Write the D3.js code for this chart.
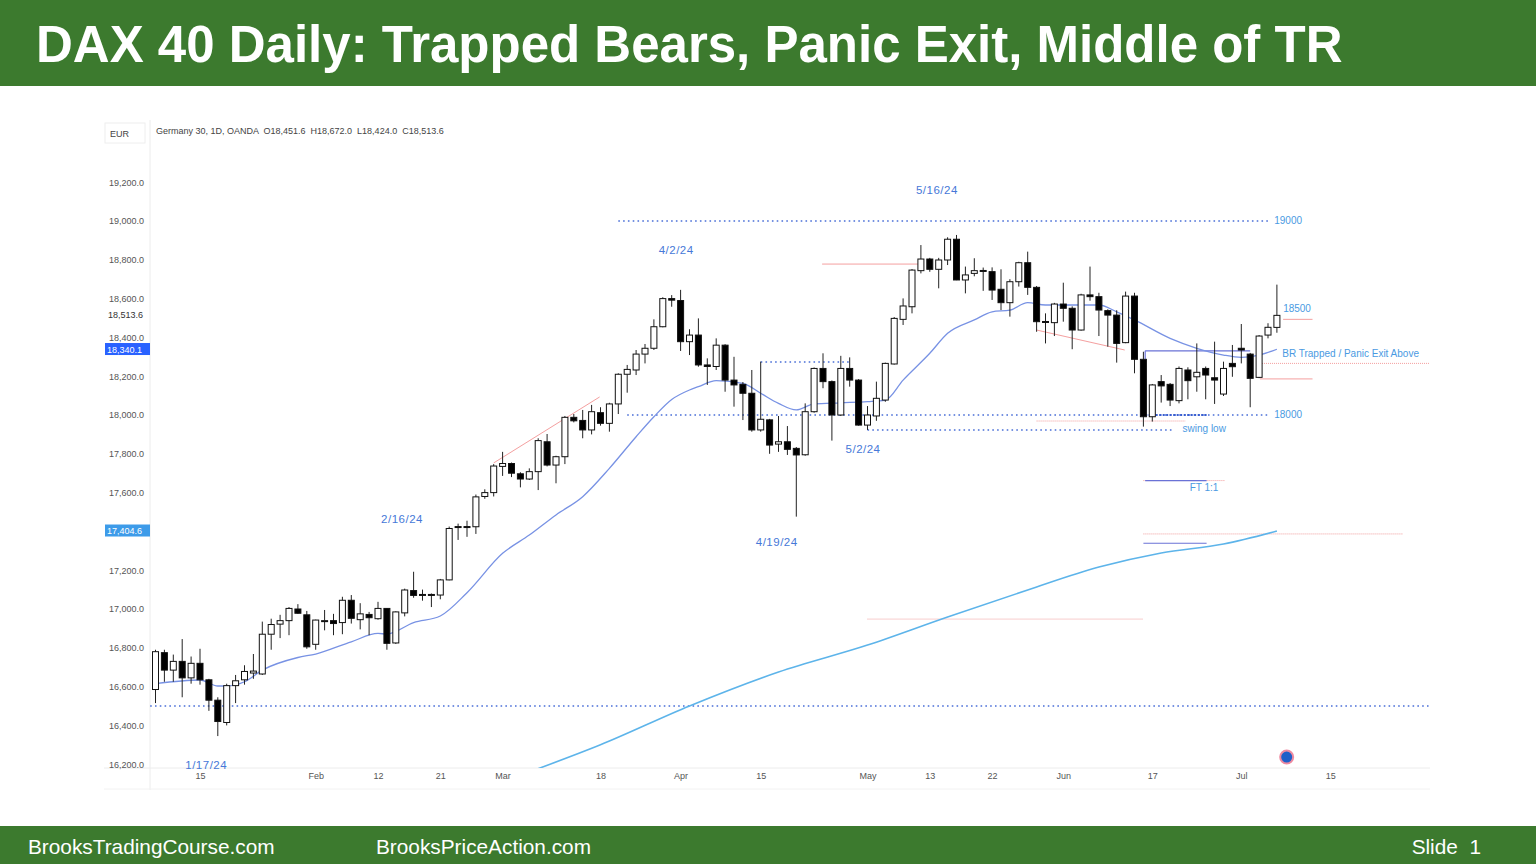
<!DOCTYPE html>
<html>
<head>
<meta charset="utf-8">
<script src="https://cdn.jsdelivr.net/npm/d3@7"></script>
<style>
body { margin: 0; background: #fff; }
svg text { font-family: "Liberation Sans", Arial, sans-serif; }
</style>
</head>
<body>
<svg id="chart" width="1536" height="864"></svg>
<script>
// trading days (Jan 8 - Jul 5 2024), one entry per candle
const dates = ("01-08 01-09 01-10 01-11 01-12 01-15 01-16 01-17 01-18 01-19 01-22 01-23 01-24 01-25 01-26 01-29 01-30 01-31 " +
  "02-01 02-02 02-05 02-06 02-07 02-08 02-09 02-12 02-13 02-14 02-15 02-16 02-19 02-20 02-21 02-22 02-23 02-26 02-27 02-28 02-29 " +
  "03-01 03-04 03-05 03-06 03-07 03-08 03-11 03-12 03-13 03-14 03-15 03-18 03-19 03-20 03-21 03-22 03-25 03-26 03-27 03-28 " +
  "04-02 04-03 04-04 04-05 04-08 04-09 04-10 04-11 04-12 04-15 04-16 04-17 04-18 04-19 04-22 04-23 04-24 04-25 04-26 04-29 04-30 " +
  "05-02 05-03 05-06 05-07 05-08 05-09 05-10 05-13 05-14 05-15 05-16 05-17 05-20 05-21 05-22 05-23 05-24 05-27 05-28 05-29 05-30 05-31 " +
  "06-03 06-04 06-05 06-06 06-07 06-10 06-11 06-12 06-13 06-14 06-17 06-18 06-19 06-20 06-21 06-24 06-25 06-26 06-27 06-28 " +
  "07-01 07-02 07-03 07-04 07-05").split(" ");

const open = [16585,16775,16685,16730,16645,16720,16635,16530,16415,16605,16635,16670,16665,16870,16922,16940,17000,16970,
  16818,16935,16940,16930,17045,16945,16972,16950,17003,16825,16980,17095,17070,17075,17072,17150,17420,17425,17424,17580,17600,
  17735,17750,17697,17670,17708,17862,17742,17785,17988,17972,17923,18012,17957,18057,18210,18232,18314,18344,18455,18600,
  18590,18378,18412,18258,18250,18360,18180,18158,18112,17923,17975,17850,17862,17828,17795,18017,18240,18172,18000,18240,18180,
  17948,17995,18077,18263,18493,18558,18744,18804,18751,18799,18906,18696,18730,18742,18739,18648,18579,18687,18785,18658,18478,18476,
  18572,18550,18438,18619,18610,18538,18515,18373,18613,18287,17991,18172,18158,18074,18232,18197,18240,18192,18108,18266,
  18344,18314,18194,18412,18451.6];
const high = [16790,16790,16765,16845,16755,16795,16640,16545,16615,16660,16710,16768,16935,16950,16970,17010,17025,16990,
  16945,16995,16975,17063,17072,17030,16985,17037,17005,16988,17105,17192,17100,17080,17155,17425,17440,17455,17590,17617,17747,
  17810,17755,17705,17725,17880,17902,17790,17995,18005,18026,18052,18040,18063,18215,18258,18335,18366,18493,18607,18618,
  18645,18442,18498,18292,18395,18365,18300,18170,18232,18275,17980,17995,17943,17835,18060,18245,18318,18178,18305,18297,18185,
  18046,18172,18270,18505,18601,18752,18876,18810,18810,18916,18928,18765,18808,18760,18761,18751,18700,18790,18842,18665,18524,18578,
  18682,18560,18625,18765,18630,18545,18540,18636,18630,18326,18160,18206,18165,18250,18246,18369,18250,18378,18275,18361,
  18469,18320,18412,18473,18672];
const low = [16515,16625,16625,16545,16615,16610,16475,16345,16400,16515,16610,16640,16660,16790,16850,16865,16975,16795,
  16790,16890,16865,16870,16925,16895,16865,16945,16790,16820,16962,17058,17043,17010,17050,17148,17356,17372,17387,17568,17580,
  17686,17680,17627,17665,17613,17735,17648,17747,17962,17880,17900,17945,17914,18005,18115,18206,18266,18335,18452,18558,
  18330,18309,18249,18155,18232,18120,18043,17974,17914,17914,17800,17810,17794,17476,17790,18012,18138,17868,17995,18146,17945,
  17923,17970,18068,18260,18464,18524,18730,18738,18653,18773,18695,18627,18715,18640,18593,18541,18507,18662,18619,18429,18369,18407,
  18481,18339,18435,18589,18407,18352,18270,18370,18215,17940,17966,18064,18046,18060,18081,18120,18081,18057,18098,18197,
  18266,18040,18190,18395,18424];
const close = [16780,16685,16730,16645,16720,16635,16530,16420,16605,16630,16678,16680,16870,16920,16940,17003,16978,16805,
  16943,16940,16925,17045,16952,16975,16955,17003,16823,16985,17098,17070,17075,17072,17150,17415,17425,17420,17578,17600,17737,
  17750,17700,17670,17708,17868,17742,17785,17988,17970,17923,18017,17957,18057,18210,18235,18314,18344,18455,18600,18592,
  18378,18412,18258,18250,18360,18180,18155,18112,17923,17978,17845,17862,17823,17794,18017,18240,18172,18000,18240,18180,17948,
  18000,18086,18266,18498,18562,18747,18804,18751,18799,18906,18696,18722,18744,18745,18644,18579,18687,18785,18658,18481,18482,18572,
  18550,18438,18619,18610,18541,18515,18369,18613,18287,17991,18155,18150,18077,18240,18177,18220,18206,18180,18240,18249,
  18335,18189,18407,18452,18513.6];

// 20 bar EMA at these bars
const emaBars = [0,5,7,8,10,12,16,18,22,25,26,29,32,35,39,42,45,48,51,54,56,58,60,61,63,66,68,70,72,74,77,80,82,84,87,89,92,94,96,98,100,103,106,108,110,114,117,120,122,124,126];
const emaValues = [16615,16634,16603,16603,16625,16685,16750,16768,16831,16874,16871,16930,16964,17084,17287,17381,17485,17579,17725,17888,17991,18080,18129,18146,18177,18163,18112,18060,18026,18057,18063,18069,18077,18180,18318,18421,18490,18532,18541,18579,18567,18567,18567,18532,18490,18395,18344,18309,18297,18309,18339];
// slow moving average (light blue)
const slowBars = [42,50,60,70,80,89,98,106,113,120,126];
const slowValues = [16160,16300,16500,16675,16814,16959,17098,17216,17289,17335,17402];

const priceTicks = [16200,16400,16600,16800,17000,17200,17400,17600,17800,18000,18200,18400,18600,18800,19000,19200];
const tickBars = [5,18,25,32,39,50,59,68,80,87,94,102,112,122,132];
const tickLabels = ["15","Feb","12","21","Mar","18","Apr","15","May","13","22","Jun","17","Jul","15"];

const dateNotes = [
  {bar: 87.8, price: 19155, text: "5/16/24"},
  {bar: 58.5, price: 18845, text: "4/2/24"},
  {bar: 27.7, price: 17459, text: "2/16/24"},
  {bar: 69.8, price: 17340, text: "4/19/24"},
  {bar: 79.5, price: 17820, text: "5/2/24"},
  {bar: 5.7, price: 16191, text: "1/17/24"}
];
const levelNotes = [
  {bar: 125.7, price: 19000, text: "19000"},
  {bar: 125.7, price: 18000, text: "18000"},
  {bar: 126.7, price: 18546, text: "18500"},
  {bar: 126.6, price: 18314, text: "BR Trapped / Panic Exit Above"},
  {bar: 115.4, price: 17928, text: "swing low"},
  {bar: 116.2, price: 17624, text: "FT 1:1"}
];
const blueDotted = [
  {from: 52, to: 125, price: 19000},
  {from: 53, to: 125, price: 18000},
  {from: -0.6, to: 143.2, price: 16500},
  {from: 68, to: 78, price: 18273},
  {from: 80, to: 114.5, price: 17923}
];
const redLines = [
  {x1: 38, p1: 17753, x2: 49.9, p2: 18093, dash: null},
  {x1: 74.9, p1: 18778, x2: 85.9, p2: 18778, dash: null},
  {x1: 99, p1: 18438, x2: 108.9, p2: 18335, dash: null},
  {x1: 99, p1: 17969, x2: 115.7, p2: 17969, dash: "1,1"},
  {x1: 126.7, p1: 18493, x2: 130, p2: 18493, dash: null},
  {x1: 124.1, p1: 18266, x2: 143.2, p2: 18266, dash: "1,1"},
  {x1: 124.1, p1: 18186, x2: 130, p2: 18186, dash: null},
  {x1: 111, p1: 17662, x2: 120.2, p2: 17662, dash: "1,1"},
  {x1: 111, p1: 17387, x2: 140.2, p2: 17387, dash: "1,1"},
  {x1: 80, p1: 16948, x2: 111, p2: 16948, dash: "1,1"}
];
const purpleLines = [
  {x1: 111.2, p1: 18331, x2: 123, p2: 18331},
  {x1: 111.2, p1: 18331, x2: 111.2, p2: 18287},
  {x1: 111.2, p1: 17662, x2: 118.1, p2: 17662},
  {x1: 111, p1: 17339, x2: 118.1, p2: 17339}
];

const svg = d3.select("#chart");
const green = "#3c7a2e";

// header and footer bands
svg.append("rect").attr("x", 0).attr("y", 0).attr("width", 1536).attr("height", 86).attr("fill", green);
svg.append("text").attr("x", 36).attr("y", 62)
  .attr("fill", "#fff").attr("font-size", 51).attr("font-weight", "bold")
  .text("DAX 40 Daily: Trapped Bears, Panic Exit, Middle of TR");
svg.append("rect").attr("x", 0).attr("y", 826).attr("width", 1536).attr("height", 38).attr("fill", green);
const foot = [[28, "start", "BrooksTradingCourse.com"], [376, "start", "BrooksPriceAction.com"], [1481, "end", "Slide  1"]];
foot.forEach(function(f) {
  svg.append("text").attr("x", f[0]).attr("y", 854).attr("text-anchor", f[1])
    .attr("fill", "#fff").attr("font-size", 20.8).style("white-space", "pre").text(f[2]);
});

// scales
const x = d3.scaleLinear().domain([0, 126]).range([155.5, 1276.9]);
const y = d3.scaleLinear().domain([16200, 19000]).range([764.2, 221]);
const plotL = 150, plotR = 1430, plotT = 118, plotB = 768;

svg.append("defs").append("clipPath").attr("id", "plot")
  .append("rect").attr("x", plotL).attr("y", plotT).attr("width", plotR - plotL).attr("height", plotB - plotT);

// frame lines
svg.append("line").attr("x1", plotL).attr("x2", plotL).attr("y1", 120).attr("y2", 790).attr("stroke", "#ececec");
svg.append("line").attr("x1", 104).attr("x2", plotR).attr("y1", plotB).attr("y2", plotB).attr("stroke", "#ececec");
svg.append("line").attr("x1", 104).attr("x2", plotR).attr("y1", 789).attr("y2", 789).attr("stroke", "#f2f2f2");

// y axis
const yAxis = d3.axisLeft(y).tickValues(priceTicks).tickSize(0).tickPadding(0)
  .tickFormat(d3.format(",.1f"));
const ya = svg.append("g").attr("transform", "translate(144,0)").call(yAxis);
ya.select(".domain").remove();
ya.selectAll("text").attr("font-size", 9).attr("fill", "#555").attr("font-family", "DejaVu Sans Condensed, Liberation Sans, sans-serif");

// x axis
const xAxis = d3.axisBottom(x).tickValues(tickBars).tickSize(0).tickPadding(0)
  .tickFormat(function(d, i) { return tickLabels[i]; });
const xa = svg.append("g").attr("transform", "translate(0,773)").call(xAxis);
xa.select(".domain").remove();
xa.selectAll("text").attr("font-size", 9).attr("fill", "#555").attr("font-family", "DejaVu Sans Condensed, Liberation Sans, sans-serif");

// EUR box and legend line
svg.append("rect").attr("x", 105).attr("y", 123).attr("width", 40).attr("height", 20)
  .attr("fill", "#fff").attr("stroke", "#eeeeee");
svg.append("text").attr("x", 110).attr("y", 137).attr("font-size", 9).attr("fill", "#444")
  .attr("font-family", "DejaVu Sans Condensed, sans-serif").text("EUR");
svg.append("text").attr("x", 156).attr("y", 134).attr("font-size", 9).attr("fill", "#444")
  .attr("font-family", "DejaVu Sans Condensed, sans-serif").style("white-space", "pre")
  .text("Germany 30, 1D, OANDA  O18,451.6  H18,672.0  L18,424.0  C18,513.6");

// price tags on the axis
svg.append("text").attr("x", 108).attr("y", y(close[126]) + 3).attr("font-size", 9).attr("fill", "#333")
  .attr("font-family", "DejaVu Sans Condensed, sans-serif").text(d3.format(",.1f")(close[126]));
const tags = [[emaValues[emaValues.length - 1] + 1.1, "#2962ff", "18,340.1"], [slowValues[slowValues.length - 1] + 2.6, "#3d9be9", "17,404.6"]];
tags.forEach(function(t) {
  svg.append("rect").attr("x", 105).attr("y", y(t[0]) - 6).attr("width", 45).attr("height", 12).attr("fill", t[1]);
  svg.append("text").attr("x", 107).attr("y", y(t[0]) + 3.5).attr("font-size", 9).attr("fill", "#fff")
    .attr("font-family", "DejaVu Sans Condensed, sans-serif").text(t[2]);
});

const plot = svg.append("g").attr("clip-path", "url(#plot)");

// annotation lines
plot.selectAll(".bdot").data(blueDotted).enter().append("line")
  .attr("x1", function(d) { return x(d.from); }).attr("x2", function(d) { return x(d.to); })
  .attr("y1", function(d) { return y(d.price); }).attr("y2", function(d) { return y(d.price); })
  .attr("stroke", "#4a6fd8").attr("stroke-width", 1.6).attr("stroke-dasharray", "1.6,3.2");
plot.append("line").attr("x1", x(111.2)).attr("x2", x(118.1)).attr("y1", y(18000)).attr("y2", y(18000))
  .attr("stroke", "#3a5fd0").attr("stroke-width", 2).attr("stroke-dasharray", "2,1.5");
plot.selectAll(".red").data(redLines).enter().append("line")
  .attr("x1", function(d) { return x(d.x1); }).attr("x2", function(d) { return x(d.x2); })
  .attr("y1", function(d) { return y(d.p1); }).attr("y2", function(d) { return y(d.p2); })
  .attr("stroke", "#f07a7a").attr("stroke-width", 0.9).attr("opacity", 0.8)
  .attr("stroke-dasharray", function(d) { return d.dash; });
plot.selectAll(".pur").data(purpleLines).enter().append("line")
  .attr("x1", function(d) { return x(d.x1); }).attr("x2", function(d) { return x(d.x2); })
  .attr("y1", function(d) { return y(d.p1); }).attr("y2", function(d) { return y(d.p2); })
  .attr("stroke", "#6a72d6").attr("stroke-width", 1.2);

// moving averages
const maLine = d3.line().x(function(d) { return x(d[0]); }).y(function(d) { return y(d[1]); }).curve(d3.curveMonotoneX);
plot.append("path").datum(d3.zip(slowBars, slowValues)).attr("d", maLine)
  .attr("fill", "none").attr("stroke", "#5db4ea").attr("stroke-width", 1.6);
plot.append("path").datum(d3.zip(emaBars, emaValues)).attr("d", maLine)
  .attr("fill", "none").attr("stroke", "#7892e4").attr("stroke-width", 1.3);

// candles
const bars = dates.map(function(d, i) {
  return {date: d, i: i, o: open[i], h: high[i], l: low[i], c: close[i]};
});
const bw = 6;
const candle = plot.selectAll(".candle").data(bars).enter().append("g");
candle.append("line")
  .attr("x1", function(d) { return x(d.i); }).attr("x2", function(d) { return x(d.i); })
  .attr("y1", function(d) { return y(d.h); }).attr("y2", function(d) { return y(d.l); })
  .attr("stroke", "#222").attr("stroke-width", 1);
candle.append("rect")
  .attr("x", function(d) { return x(d.i) - bw / 2; })
  .attr("y", function(d) { return y(Math.max(d.o, d.c)); })
  .attr("width", bw)
  .attr("height", function(d) { return Math.max(1, Math.abs(y(d.o) - y(d.c))); })
  .attr("fill", function(d) { return d.c >= d.o ? "#fff" : "#000"; })
  .attr("stroke", "#111").attr("stroke-width", 1);

// text notes
svg.selectAll(".dnote").data(dateNotes).enter().append("text")
  .attr("x", function(d) { return x(d.bar); }).attr("y", function(d) { return y(d.price); })
  .attr("text-anchor", "middle").attr("dominant-baseline", "middle")
  .attr("font-size", 11.5).attr("fill", "#4678d8").attr("letter-spacing", 0.5)
  .text(function(d) { return d.text; });
svg.selectAll(".lnote").data(levelNotes).enter().append("text")
  .attr("x", function(d) { return x(d.bar); }).attr("y", function(d) { return y(d.price); })
  .attr("dominant-baseline", "middle")
  .attr("font-size", 10).attr("fill", "#4a9ae2")
  .text(function(d) { return d.text; });

// marker dot near the time axis
svg.append("circle").attr("cx", x(127.1)).attr("cy", y(16237)).attr("r", 6.5)
  .attr("fill", "#1f5fc8").attr("stroke", "#ee8aa0").attr("stroke-width", 2);
</script>
</body>
</html>
